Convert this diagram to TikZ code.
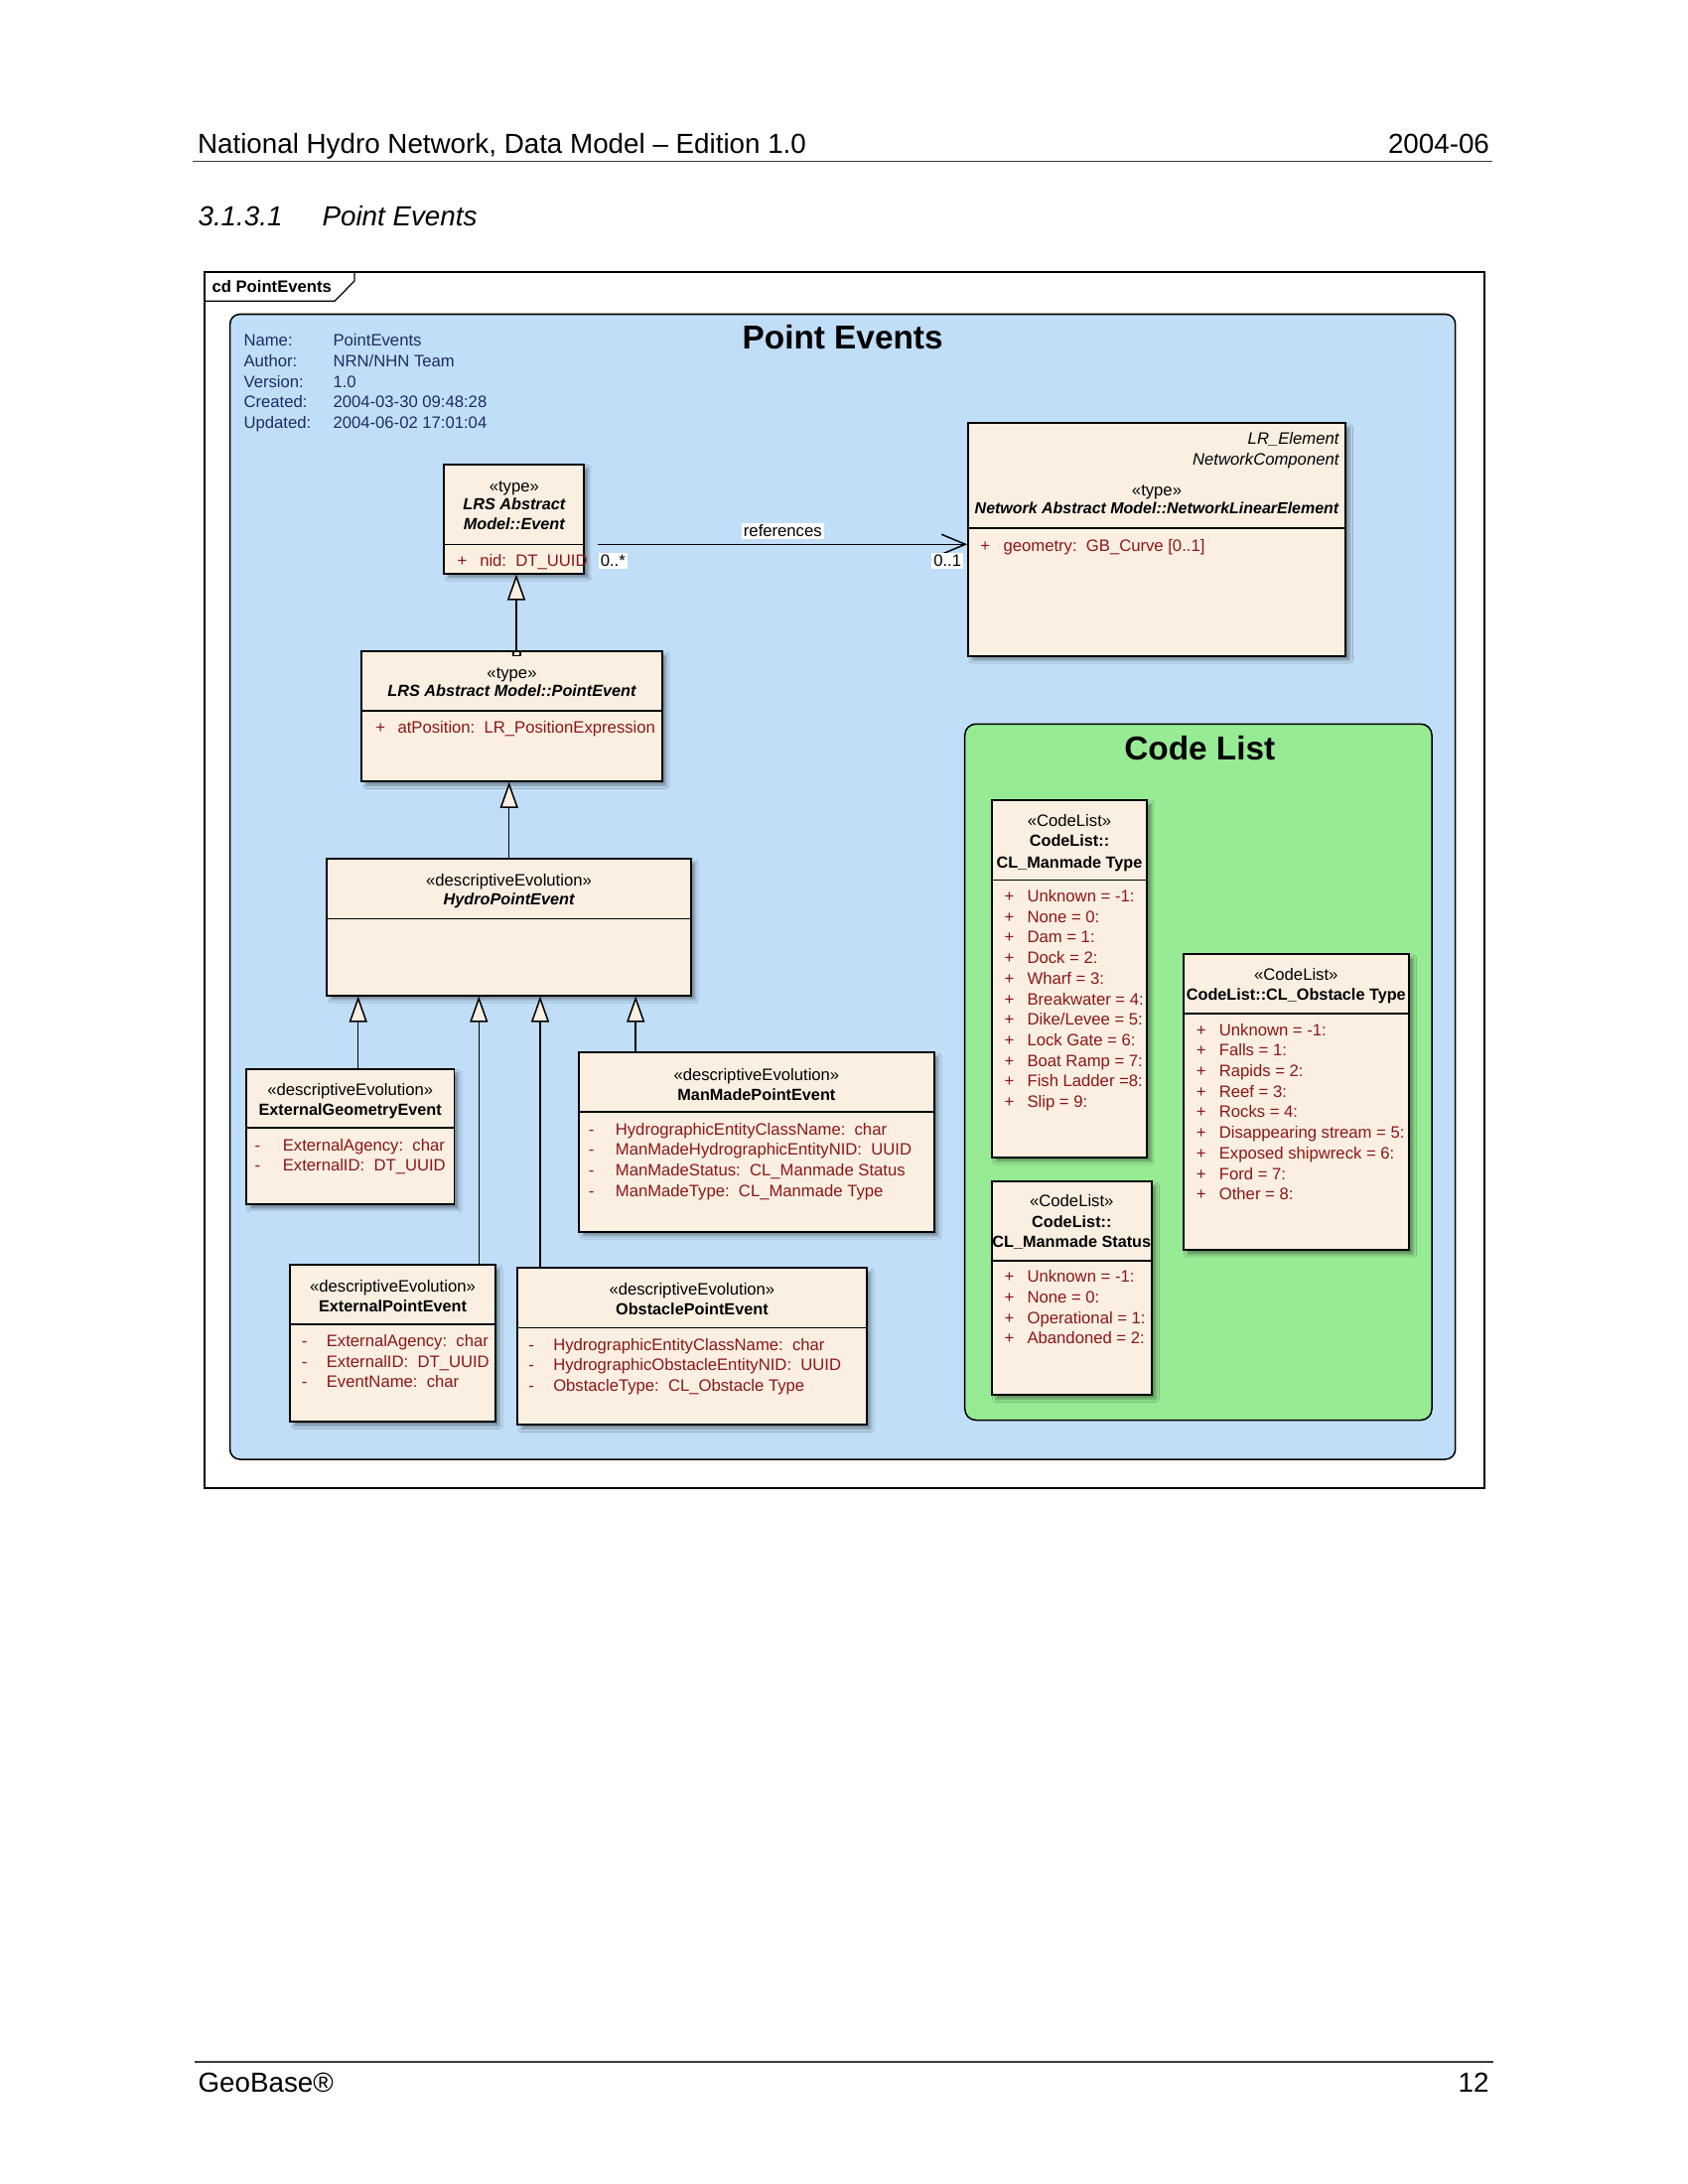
\documentclass[tikz,border=0pt]{standalone}
\usepackage{fontspec}
\setmainfont{Liberation Sans}
\usetikzlibrary{arrows.meta,calc,fit,shadows.blur}

\definecolor{pkgblue}{RGB}{192,222,248}
\definecolor{pkggreen}{RGB}{152,235,149}
\definecolor{classfill}{RGB}{251,239,226}
\definecolor{attrred}{RGB}{140,22,22}
\definecolor{notenavy}{RGB}{28,45,98}
\definecolor{rulegray}{RGB}{60,60,60}

\newcommand{\umlfont}{\fontsize{6}{7.2}\selectfont}
\newcommand{\namefont}{\fontsize{5.85}{7}\selectfont\bfseries}
\newcommand{\pagefont}{\fontsize{10}{12}\selectfont}
\newcommand{\titlefont}{\fontsize{12}{14}\selectfont\bfseries}

% compartment rows: visibility sign and text at their own tab stops
\newcommand{\attrlist}[6]{%
  \foreach \t [count=\i from 0] in {#6} {
    \node[attr] (#1s\i) at (#2, #4+20.7*\i) {#5};
    \node[attr] (#1t\i) at (#3, #4+20.7*\i) {\t};
  }}

\begin{document}
\begin{tikzpicture}[x=0.36pt, y=-0.36pt,
  txt/.style={inner sep=0pt, font=\umlfont, text height=4.2pt, text depth=0pt},
  stereo/.style={txt, anchor=center},
  cname/.style={txt, font=\namefont, anchor=center},
  aname/.style={txt, font=\namefont\itshape, anchor=center},
  attr/.style={txt, anchor=west, text=attrred},
  info/.style={txt, anchor=west, text=notenavy},
  pagetext/.style={inner sep=0pt, font=\pagefont, text height=7pt, text depth=0pt},
  bigtitle/.style={inner sep=0pt, font=\titlefont, text height=8.6pt, text depth=0pt, anchor=center},
  classbox/.style={draw=black, line width=0.6pt, fill=classfill, inner sep=0pt,
    blur shadow={shadow xshift=1.5pt, shadow yshift=-1.5pt, shadow blur radius=1.2pt, shadow opacity=40}},
  divider/.style={line width=0.5pt},
  gen/.style={line width=0.55pt, -{Triangle[length=9.4pt, width=6.5pt, fill=classfill]}},
  assoc/.style={line width=0.55pt, -{Straight Barb[length=8.6pt, width=7.2pt]}},
  endlabel/.style={fill=white, inner xsep=0.8pt, inner ysep=0.6pt, font=\umlfont, text height=4.3pt, text depth=0.3pt},
]
\useasboundingbox (0,0) rectangle (1700,2200);
\fill[white] (0,0) rectangle (1700,2200);

% ---------- page header and footer ----------
\node[pagetext, anchor=west] (hdrl) at (198.5,144.3) {National Hydro Network, Data Model -- Edition 1.0};
\node[pagetext, anchor=east] (hdrr) at (1500.5,144.3) {2004-06};
\draw[rulegray, line width=0.6pt] (194,162.5) -- (1503,162.5);
\node[pagetext, anchor=west, font=\pagefont\itshape] (secno) at (199,217.3) {3.1.3.1};
\node[pagetext, anchor=west, font=\pagefont\itshape] (secttl) at (324,217.3) {Point Events};

\draw[rulegray, line width=0.6pt] (195.6,2076.7) -- (1504.4,2076.7);
\node[pagetext, anchor=west] (ftl) at (199,2097.7) {GeoBase®};
\node[pagetext, anchor=east] (ftr) at (1500,2097.7) {12};

% ---------- diagram frame ----------
\draw[line width=0.45pt] (206,274) rectangle (1495,1499);
\draw[line width=0.45pt] (206,303.3) -- (337,303.3) -- (357,283) -- (357,274);
\node[txt, anchor=west, font=\umlfont\bfseries] (frametag) at (213,289) {cd PointEvents};

% ---------- package boundary ----------
\draw[fill=pkgblue, line width=0.55pt, rounded corners=3.6pt] (231.6,316.5) rectangle (1465.7,1470);
\node[bigtitle] (pkgtitle) at (848.6,339.4) {Point Events};

\node[info] (k1) at (245,342.7) {Name:};
\node[info] (k2) at (245,363.5) {Author:};
\node[info] (k3) at (245,384.3) {Version:};
\node[info] (k4) at (245,405.1) {Created:};
\node[info] (k5) at (245,425.9) {Updated:};
\node[info] (v1) at (335,342.7) {PointEvents};
\node[info] (v2) at (335,363.5) {NRN/NHN Team};
\node[info] (v3) at (335,384.3) {1.0};
\node[info] (v4) at (335,405.1) {2004-03-30 09:48:28};
\node[info] (v5) at (335,425.9) {2004-06-02 17:01:04};

% ---------- code list package ----------
\draw[fill=pkggreen, line width=0.55pt, rounded corners=4pt] (971.7,729.3) rectangle (1442,1430.5);
\node[bigtitle] (cltitle) at (1208.3,753.3) {Code List};

% ---------- classes ----------
% LRS Abstract Model::Event
\node[classbox, fit={(447.3,467.7) (588.3,577.7)}] (event) {};
\draw[divider] (event.west |- 0,548.7) -- (event.east |- 0,548.7);
\node[stereo] (eventst) at (517.8,489.3) {«type»};
\node[aname] (eventn1) at (517.8,507.3) {LRS Abstract};
\node[aname] (eventn2) at (517.8,527.7) {Model::Event};
\attrlist{ev}{460}{482.7}{565}{+}{nid:\ \ DT\_UUID}

% Network Abstract Model::NetworkLinearElement
\node[classbox, fit={(975,426) (1355,660.7)}] (nle) {};
\draw[divider] (nle.west |- 0,532) -- (nle.east |- 0,532);
\node[txt, anchor=east, font=\umlfont\itshape] (nlet1) at (1349,441.7) {LR\_Element};
\node[txt, anchor=east, font=\umlfont\itshape] (nlet2) at (1349,462.3) {NetworkComponent};
\node[stereo] (nlest) at (1165,493.3) {«type»};
\node[aname, font=\fontsize{5.75}{7}\selectfont\bfseries\itshape] (nlen) at (1165,511.7) {Network Abstract Model::NetworkLinearElement};
\attrlist{nl}{986.7}{1010}{550}{+}{geometry:\ \ GB\_Curve [0..1]}

% LRS Abstract Model::PointEvent
\node[classbox, fit={(364.3,656) (666.7,786.9)}] (pointev) {};
\draw[divider] (pointev.west |- 0,716) -- (pointev.east |- 0,716);
\node[stereo] (pointevst) at (515.5,677.7) {«type»};
\node[aname] (pointevn) at (515.5,696) {LRS Abstract Model::PointEvent};
\attrlist{pe}{377.7}{400}{732.7}{+}{atPosition:\ \ LR\_PositionExpression}

% HydroPointEvent
\node[classbox, fit={(329.3,865) (695.7,1002.7)}] (hydro) {};
\draw[divider] (hydro.west |- 0,925.3) -- (hydro.east |- 0,925.3);
\node[stereo] (hydrost) at (512.5,886.7) {«descriptiveEvolution»};
\node[aname] (hydron) at (512.5,905.7) {HydroPointEvent};

% ExternalGeometryEvent
\node[classbox, fit={(247.9,1076.7) (457.5,1213.3)}] (extgeo) {};
\draw[divider] (extgeo.west |- 0,1136) -- (extgeo.east |- 0,1136);
\node[stereo] (extgeost) at (352.7,1097.7) {«descriptiveEvolution»};
\node[cname] (extgeon) at (352.7,1117.7) {ExternalGeometryEvent};
\attrlist{eg}{256}{284.3}{1153.3}{-}{ExternalAgency:\ \ char, ExternalID:\ \ DT\_UUID}

% ManMadePointEvent
\node[classbox, fit={(583,1060) (940.7,1240.7)}] (manmade) {};
\draw[divider] (manmade.west |- 0,1120) -- (manmade.east |- 0,1120);
\node[stereo] (manmadest) at (761.9,1082.3) {«descriptiveEvolution»};
\node[cname] (manmaden) at (761.9,1102.3) {ManMadePointEvent};
\attrlist{mm}{592.4}{619.3}{1137.3}{-}{HydrographicEntityClassName:\ \ char, ManMadeHydrographicEntityNID:\ \ UUID, ManMadeStatus:\ \ CL\_Manmade Status, ManMadeType:\ \ CL\_Manmade Type}

% ExternalPointEvent
\node[classbox, fit={(292.3,1274) (498.7,1432)}] (extpt) {};
\draw[divider] (extpt.west |- 0,1334) -- (extpt.east |- 0,1334);
\node[stereo] (extptst) at (395.5,1296) {«descriptiveEvolution»};
\node[cname] (extptn) at (395.5,1315.3) {ExternalPointEvent};
\attrlist{ep}{303.3}{328.3}{1350.7}{-}{ExternalAgency:\ \ char, ExternalID:\ \ DT\_UUID, EventName:\ \ char}

% ObstaclePointEvent
\node[classbox, fit={(521,1277.3) (872.7,1435)}] (obst) {};
\draw[divider] (obst.west |- 0,1337.7) -- (obst.east |- 0,1337.7);
\node[stereo] (obstst) at (696.9,1298.3) {«descriptiveEvolution»};
\node[cname] (obstn) at (696.9,1318.3) {ObstaclePointEvent};
\attrlist{op}{531.7}{556.7}{1354.3}{-}{HydrographicEntityClassName:\ \ char, HydrographicObstacleEntityNID:\ \ UUID, ObstacleType:\ \ CL\_Obstacle Type}

% CodeList::CL_Manmade Type
\node[classbox, fit={(998.7,806) (1155.3,1165.7)}] (cltype) {};
\draw[divider] (cltype.west |- 0,886.7) -- (cltype.east |- 0,886.7);
\node[stereo] (cltypest) at (1077,826.7) {«CodeList»};
\node[cname] (cltypen1) at (1077,847) {CodeList::};
\node[cname] (cltypen2) at (1077,868.3) {CL\_Manmade Type};
\attrlist{ct}{1011}{1034}{902.7}{+}{Unknown = -1:, None = 0:, Dam = 1:, Dock = 2:, Wharf = 3:, Breakwater = 4:, Dike/Levee = 5:, Lock Gate = 6:, Boat Ramp = 7:, Fish Ladder =8:, Slip = 9:}

% CodeList::CL_Obstacle Type
\node[classbox, fit={(1191.7,961) (1419,1259.3)}] (clobst) {};
\draw[divider] (clobst.west |- 0,1021) -- (clobst.east |- 0,1021);
\node[stereo] (clobstst) at (1305.3,981.7) {«CodeList»};
\node[cname] (clobstn) at (1305.3,1001.7) {CodeList::CL\_Obstacle Type};
\attrlist{co}{1204.3}{1227.3}{1037.3}{+}{Unknown = -1:, Falls = 1:, Rapids = 2:, Reef = 3:, Rocks = 4:, Disappearing stream = 5:, Exposed shipwreck = 6:, Ford = 7:, Other = 8:}

% CodeList::CL_Manmade Status
\node[classbox, fit={(998.7,1190) (1160,1405)}] (clstat) {};
\draw[divider] (clstat.west |- 0,1270) -- (clstat.east |- 0,1270);
\node[stereo] (clstatst) at (1079.3,1210) {«CodeList»};
\node[cname] (clstatn1) at (1079.3,1230.7) {CodeList::};
\node[cname] (clstatn2) at (1079.3,1251) {CL\_Manmade Status};
\attrlist{cs}{1011}{1034}{1286}{+}{Unknown = -1:, None = 0:, Operational = 1:, Abandoned = 2:}

% ---------- generalizations ----------
\draw[gen] (pointev.north -| 520,0) -- (event.south -| 520,0);
\draw[line width=0.4pt, fill=classfill] (517,656) rectangle (524,660.5);
\draw[gen] (hydro.north -| 512.7,0) -- (pointev.south -| 512.7,0);
\draw[gen] (extgeo.north -| 360.7,0) -- (hydro.south -| 360.7,0);
\draw[gen] (extpt.north -| 482.3,0) -- (hydro.south -| 482.3,0);
\draw[gen] (obst.north -| 544,0) -- (hydro.south -| 544,0);
\draw[gen] (manmade.north -| 640.2,0) -- (hydro.south -| 640.2,0);

% ---------- association ----------
\draw[assoc] ($(event.east |- 0,548.3)+(13,0)$) -- (nle.west |- 0,548.3);
\node[endlabel] (assocname) at (788.3,535) {references};
\node[endlabel] (srcmult) at (617.3,565) {0..*};
\node[endlabel] (dstmult) at (954.2,565) {0..1};

\end{tikzpicture}
\end{document}
